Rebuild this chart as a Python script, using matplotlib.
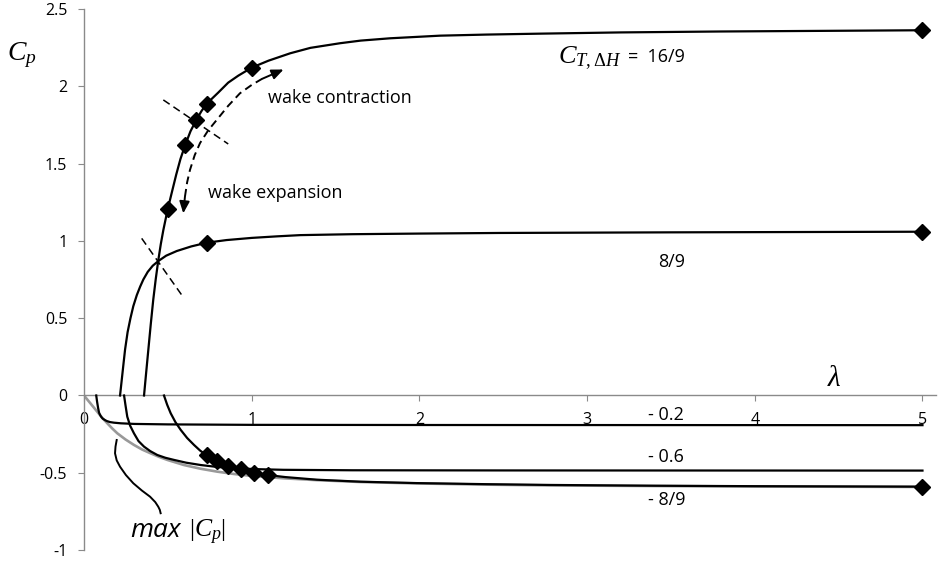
import matplotlib
matplotlib.use("Agg")
import matplotlib.pyplot as plt

plt.rcParams['font.family'] = ['Open Sans', 'DejaVu Sans']
plt.rcParams['axes.unicode_minus'] = False
plt.rcParams['mathtext.fontset'] = 'custom'
plt.rcParams['mathtext.it'] = 'Liberation Serif:italic'
plt.rcParams['mathtext.rm'] = 'Liberation Serif'

# ---- data ----
lam_p16 = [0.358, 0.37, 0.384, 0.398, 0.413, 0.428, 0.443, 0.458, 0.473, 0.499, 0.525, 0.55,
           0.575, 0.603, 0.635, 0.668, 0.70, 0.732, 0.80, 0.86, 0.92, 1.0, 1.1, 1.23, 1.35,
           1.527, 1.65, 1.826, 2.124, 2.4, 2.72, 3.2, 3.8, 4.4, 5.0]
cp_p16 = [0.0, 0.14, 0.30, 0.46, 0.62, 0.755, 0.875, 0.98, 1.07, 1.205, 1.32, 1.43,
          1.53, 1.62, 1.71, 1.78, 1.84, 1.889, 1.96, 2.025, 2.07, 2.122, 2.167, 2.215, 2.25,
          2.28, 2.297, 2.312, 2.329, 2.336, 2.342, 2.35, 2.356, 2.36, 2.364]

lam_p8 = [0.215, 0.225, 0.235, 0.245, 0.26, 0.277, 0.294, 0.315, 0.335, 0.354, 0.38, 0.41,
          0.443, 0.49, 0.553, 0.64, 0.732, 0.85, 1.0, 1.15, 1.29, 1.6, 2.0, 2.48, 3.5, 5.0]
cp_p8 = [0.0, 0.1, 0.2, 0.298, 0.41, 0.5, 0.578, 0.65, 0.705, 0.751, 0.8, 0.84,
         0.87, 0.905, 0.935, 0.965, 0.989, 1.006, 1.02, 1.03, 1.038, 1.044, 1.048, 1.052, 1.056, 1.06]

lam_m02 = [0.073, 0.078, 0.084, 0.09, 0.097, 0.104, 0.112, 0.122, 0.135, 0.155, 0.179, 0.22,
           0.3, 0.5, 1.0, 2.0, 5.0]
cp_m02 = [0.0, -0.04, -0.08, -0.112, -0.128, -0.14, -0.15, -0.157, -0.165, -0.172, -0.176, -0.18,
          -0.184, -0.187, -0.19, -0.191, -0.192]

lam_m06 = [0.239, 0.247, 0.258, 0.275, 0.298, 0.325, 0.358, 0.395, 0.437, 0.485, 0.537, 0.61,
           0.696, 0.79, 0.894, 1.04, 1.19, 1.6, 2.5, 5.0]
cp_m06 = [0.0, -0.06, -0.137, -0.195, -0.245, -0.295, -0.331, -0.36, -0.385, -0.403, -0.417, -0.435,
          -0.45, -0.462, -0.471, -0.477, -0.481, -0.484, -0.485, -0.486]

lam_m89 = [0.477, 0.496, 0.517, 0.545, 0.577, 0.615, 0.656, 0.693, 0.731, 0.795, 0.861, 0.934,
           1.014, 1.098, 1.2, 1.388, 1.65, 1.984, 2.4, 2.78, 3.4, 4.0, 5.0]
cp_m89 = [0.0, -0.06, -0.115, -0.172, -0.223, -0.275, -0.32, -0.357, -0.387, -0.424, -0.456, -0.478,
          -0.499, -0.515, -0.528, -0.545, -0.558, -0.567, -0.574, -0.579, -0.584, -0.587, -0.59]

lam_max = [0.0, 0.04, 0.079, 0.109, 0.139, 0.169, 0.199, 0.248, 0.298, 0.347, 0.397, 0.447,
           0.497, 0.596, 0.695, 0.795, 0.894, 0.994, 1.193, 1.39, 1.65, 1.98, 2.4, 2.78, 3.4,
           4.0, 5.0]
cp_max = [0.0, -0.053, -0.105, -0.145, -0.18, -0.214, -0.245, -0.285, -0.32, -0.35, -0.374, -0.397,
          -0.417, -0.45, -0.474, -0.493, -0.508, -0.52, -0.536, -0.548, -0.56, -0.569, -0.577, -0.582,
          -0.586, -0.589, -0.592]

mk_p16_lam = [0.499, 0.603, 0.668, 0.732, 1.0, 5.0]
mk_p16_cp = [1.205, 1.62, 1.78, 1.889, 2.122, 2.364]
mk_p8_lam = [0.732, 5.0]
mk_p8_cp = [0.989, 1.06]
mk_m89_lam = [0.731, 0.795, 0.861, 0.934, 1.014, 1.098, 5.0]
mk_m89_cp = [-0.387, -0.424, -0.456, -0.478, -0.499, -0.515, -0.59]

x_ticks = [0, 1, 2, 3, 4, 5]
x_labels = ['0', '1', '2', '3', '4', '5']
y_ticks = [2.5, 2, 1.5, 1, 0.5, 0, -0.5, -1]
y_labels = ['2.5', '2', '1.5', '1', '0.5', '0', '-0.5', '-1']

# annotation geometry
arrow_lam = [0.592, 0.602, 0.615, 0.632, 0.66, 0.692, 0.74, 0.791, 0.86, 0.93, 1.0, 1.061, 1.19]
arrow_cp = [1.179, 1.287, 1.38, 1.46, 1.555, 1.634, 1.715, 1.783, 1.875, 1.956, 2.01, 2.049, 2.11]
cross1_lam = [0.473, 0.86]
cross1_cp = [1.913, 1.628]
cross2_lam = [0.344, 0.583]
cross2_cp = [1.017, 0.65]
s_lam = [0.195, 0.188, 0.185, 0.195, 0.215, 0.25, 0.294, 0.345, 0.394, 0.425, 0.443, 0.452, 0.457]
s_cp = [-0.288, -0.33, -0.374, -0.42, -0.461, -0.515, -0.568, -0.615, -0.655, -0.69, -0.72, -0.74, -0.762]

# ---- figure ----
fig = plt.figure(figsize=(9.38, 5.63), dpi=100)
ax = fig.add_axes([0.08955, 0.02309, 0.9082, 0.9605])
ax.set_xlim(0, 5.08)
ax.set_ylim(-1, 2.5)

gray = '#8a8a8a'
for s in ['top', 'right']:
    ax.spines[s].set_visible(False)
ax.spines['bottom'].set_position(('data', 0))
ax.spines['left'].set_color(gray)
ax.spines['bottom'].set_color(gray)
ax.spines['left'].set_linewidth(1.0)
ax.spines['bottom'].set_linewidth(1.0)

ax.set_xticks(x_ticks)
ax.set_xticklabels(x_labels)
ax.set_yticks(y_ticks)
ax.set_yticklabels(y_labels)
ax.tick_params(axis='x', direction='out', length=4, color=gray, pad=8, labelsize=11.5)
ax.tick_params(axis='y', direction='out', length=4, color=gray, pad=8, labelsize=11.5)

lw = 1.6
ax.plot(lam_max, cp_max, color='#999999', lw=1.9, zorder=2, solid_joinstyle='round')
for xl, yl in [(lam_p16, cp_p16), (lam_p8, cp_p8), (lam_m02, cp_m02), (lam_m06, cp_m06),
               (lam_m89, cp_m89)]:
    ax.plot(xl, yl, color='black', lw=lw, zorder=3, solid_joinstyle='round')

ms = 8.5
for xl, yl in [(mk_p16_lam, mk_p16_cp), (mk_p8_lam, mk_p8_cp), (mk_m89_lam, mk_m89_cp)]:
    ax.plot(xl, yl, linestyle='none', marker='D', color='black', markersize=ms, zorder=4,
            clip_on=False)

# dashed annotations
ax.plot(cross1_lam, cross1_cp, color='black', lw=1.1, linestyle=(0, (5, 3)), zorder=3)
ax.plot(cross2_lam, cross2_cp, color='black', lw=1.1, linestyle=(0, (5, 3)), zorder=3)
ax.plot(arrow_lam[1:-1], arrow_cp[1:-1], color='black', lw=1.4, linestyle=(0, (4, 2.5)), zorder=3)
ax.annotate('', xy=(arrow_lam[0], arrow_cp[0]), xytext=(arrow_lam[1], arrow_cp[1]),
            arrowprops=dict(arrowstyle='-|>,head_length=0.7,head_width=0.3', color='black', lw=1.4,
                            shrinkA=0, shrinkB=0))
ax.annotate('', xy=(arrow_lam[-1], arrow_cp[-1]), xytext=(arrow_lam[-2], arrow_cp[-2]),
            arrowprops=dict(arrowstyle='-|>,head_length=0.7,head_width=0.3', color='black', lw=1.4,
                            shrinkA=0, shrinkB=0))
ax.plot(s_lam, s_cp, color='black', lw=1.4, zorder=3, solid_joinstyle='round')

# texts
fs = 13
ax.text(-0.459, 2.172, r'$C_p$', fontsize=20, ha='left', va='baseline', clip_on=False)
ax.text(2.826, 2.146, r'$C_{T,\Delta H}$', fontsize=19, ha='left', va='baseline')
ax.text(3.244, 2.188, '=  16/9', fontsize=fs, ha='left', va='center')
ax.text(1.097, 1.926, 'wake contraction', fontsize=fs, ha='left', va='center')
ax.text(0.739, 1.311, 'wake expansion', fontsize=fs, ha='left', va='center')
ax.text(3.506, 0.864, '8/9', fontsize=fs, ha='center', va='center')
ax.text(3.363, -0.126, '- 0.2', fontsize=fs, ha='left', va='center')
ax.text(3.363, -0.398, '- 0.6', fontsize=fs, ha='left', va='center')
ax.text(3.363, -0.676, '- 8/9', fontsize=fs, ha='left', va='center')
ax.text(4.472, 0.107, r'$\lambda$', fontsize=21, ha='center', va='center')
ax.text(0.274, -0.916, 'max', fontsize=19, style='italic', ha='left', va='baseline')
ax.text(0.626, -0.916, r'$|C_p|$', fontsize=18.5, ha='left', va='baseline')

fig.savefig('out.png', dpi=100)
